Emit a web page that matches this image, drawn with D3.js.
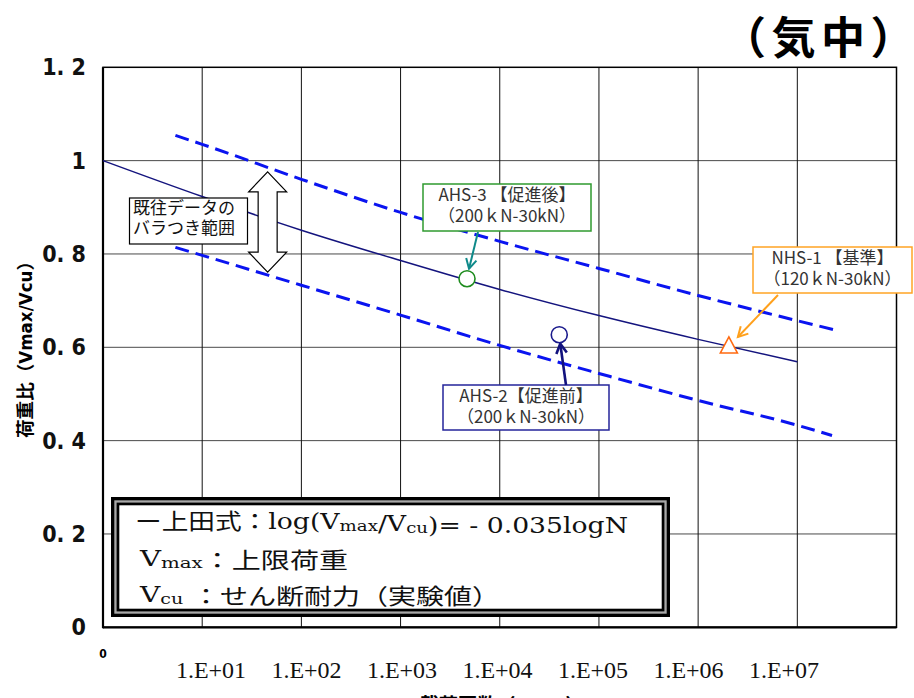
<!DOCTYPE html>
<html>
<head>
<meta charset="utf-8">
<script src="https://cdn.jsdelivr.net/npm/d3@7/dist/d3.min.js"></script>
<style>
	body { margin: 0; background: #fff; }
	svg { display: block; }
</style>
</head>
<body>
<div id="root"></div>
<script>
// axis ticks
const xTickValues = [1, 2, 3, 4, 5, 6, 7]
const xTickLabels = ['1.E+01', '1.E+02', '1.E+03', '1.E+04', '1.E+05', '1.E+06', '1.E+07']
const yTickValues = [0, 0.2, 0.4, 0.6, 0.8, 1, 1.2]
const yTickLabels = ['0', '0. 2', '0. 4', '0. 6', '0. 8', '1', '1. 2']

// 上田式 (mean line)
const meanLogN = [0, 1, 2, 3, 4, 5, 6, 7]
const meanRatio = [1.000, 0.923, 0.851, 0.786, 0.724, 0.668, 0.617, 0.569]

// scatter band of past data (dashed)
const upperLogN = [0.73, 1, 2, 3, 4, 5, 6, 7, 7.4]
const upperRatio = [1.054, 1.035, 0.960, 0.889, 0.827, 0.769, 0.711, 0.657, 0.636]
const lowerLogN = [0.73, 1, 2, 3, 4, 5, 6, 7, 7.35]
const lowerRatio = [0.814, 0.797, 0.733, 0.669, 0.604, 0.544, 0.486, 0.433, 0.411]

// specimens
const specimenNames = ['AHS-3', 'AHS-2', 'NHS-1']
const specimenLogN = [3.67, 4.60, 6.31]
const specimenRatio = [0.747, 0.627, 0.605]
const specimenLabels = [
	['AHS-3 【促進後】', '（200ｋN-30kN）'],
	['AHS-2【促進前】', '（200ｋN-30kN）'],
	['NHS-1 【基準】', '（120ｋN-30kN）'],
]

const titleChars = ['（', '気', '中', '）']

const C = {
	width: 914,
	height: 698,
	left: 103,
	right: 896.5,
	top: 67.3,
	bottom: 627.3,
	jp: '"Noto Sans CJK JP", sans-serif',
	narrow: '"Liberation Sans Narrow", "DejaVu Sans Condensed", "Noto Sans CJK JP", sans-serif',
	serif: '"DejaVu Serif", "Liberation Serif", "Noto Sans CJK JP", serif',
	specimens: {
		'AHS-3': { shape: 'circle', color: '#1e8c1e', box: [423, 184, 168, 47], boxColor: '#2f9a2f',
			arrowColor: '#0f8a8a', arrowFrom: [478, 232], tip: [2, -10], arrowWidth: 2 },
		'AHS-2': { shape: 'circle', color: '#1a1a8c', box: [443, 385, 166, 45], boxColor: '#24249a',
			arrowColor: '#12127e', arrowFrom: [566, 385], tip: [1, 9], arrowWidth: 2.6 },
		'NHS-1': { shape: 'triangle', color: '#ff6a10', box: [753, 247, 159, 46], boxColor: '#ffa424',
			arrowColor: '#ffa01c', arrowFrom: [778, 295], tip: [9, -8], arrowWidth: 2 },
	},
}

const x = d3.scaleLinear().domain([0, 8]).range([C.left, C.right])
const y = d3.scaleLinear().domain([0, 1.2]).range([C.bottom, C.top])
// the 1.E+xx labels sit in their own evenly spaced row
const xLabel = d3.scaleLinear().domain([1, 7]).range([211, 784])

const svg = d3.select('#root').append('svg')
	.attr('width', C.width)
	.attr('height', C.height)
	.attr('viewBox', `0 0 ${C.width} ${C.height}`)

svg.append('rect').attr('width', C.width).attr('height', C.height).attr('fill', '#fff')

// grid
svg.append('g').selectAll('line')
	.data(yTickValues.filter(d => d > 0 && d < 1.2))
	.enter().append('line')
	.attr('x1', C.left).attr('x2', C.right)
	.attr('y1', d => y(d)).attr('y2', d => y(d))
	.attr('stroke', '#4a4a4a').attr('stroke-width', 1)

svg.append('g').selectAll('line')
	.data(xTickValues)
	.enter().append('line')
	.attr('x1', d => x(d)).attr('x2', d => x(d))
	.attr('y1', C.top).attr('y2', C.bottom)
	.attr('stroke', '#111').attr('stroke-width', 1)

// frame
svg.append('rect')
	.attr('x', C.left).attr('y', C.top)
	.attr('width', C.right - C.left).attr('height', C.bottom - C.top)
	.attr('fill', 'none').attr('stroke', '#000').attr('stroke-width', 1.5)
svg.append('line').attr('x1', C.left).attr('x2', C.left).attr('y1', C.top).attr('y2', C.bottom + 1)
	.attr('stroke', '#000').attr('stroke-width', 2.2)
svg.append('line').attr('x1', C.left).attr('x2', C.right).attr('y1', C.bottom).attr('y2', C.bottom)
	.attr('stroke', '#000').attr('stroke-width', 2.2)

// y axis labels
const axisY = d3.axisLeft(y)
	.tickValues(yTickValues)
	.tickFormat((d, i) => yTickLabels[i])
	.tickSize(0)
	.tickPadding(17)

svg.append('g')
	.attr('transform', `translate(${C.left},0)`)
	.call(axisY)
	.call(g => g.select('.domain').remove())
	.selectAll('text')
	.attr('font-family', C.narrow)
	.attr('font-weight', 'bold')
	.attr('font-size', 23)
	.attr('fill', '#111')

// x axis labels
svg.append('text')
	.attr('x', x(0)).attr('y', 658)
	.attr('text-anchor', 'middle')
	.attr('font-family', C.narrow).attr('font-weight', 'bold').attr('font-size', 12)
	.text('0')

svg.append('g').selectAll('text')
	.data(xTickValues)
	.enter().append('text')
	.attr('x', d => xLabel(d))
	.attr('y', 678)
	.attr('text-anchor', 'middle')
	.attr('font-family', '"Liberation Serif", serif')
	.attr('font-size', 24)
	.attr('fill', '#111')
	.text((d, i) => xTickLabels[i])

// axis titles
svg.append('text')
	.attr('transform', 'translate(25,345) rotate(-90)')
	.attr('text-anchor', 'middle')
	.attr('dominant-baseline', 'central')
	.attr('font-family', C.narrow)
	.attr('font-weight', 'bold')
	.attr('font-size', 18)
	.attr('textLength', 186)
	.attr('lengthAdjust', 'spacingAndGlyphs')
	.text('荷重比（Vmax/Vcu）')

// bottom title is clipped by the page edge, as in the original
svg.append('text')
	.attr('x', 502).attr('y', 713)
	.attr('text-anchor', 'middle')
	.attr('font-family', C.narrow)
	.attr('font-weight', 'bold')
	.attr('font-size', 20)
	.attr('textLength', 165)
	.attr('lengthAdjust', 'spacingAndGlyphs')
	.text('載荷回数（LogN）')

// （気中）, one glyph per 50px pitch
svg.append('text')
	.attr('y', 54)
	.attr('font-family', C.jp)
	.attr('font-weight', 'bold')
	.attr('font-size', 44)
	.selectAll('tspan')
	.data(titleChars)
	.enter().append('tspan')
	.attr('x', (d, i) => 722 + i * 49.5)
	.text(d => d)

// lines
const line = d3.line()
	.x(d => x(d[0]))
	.y(d => y(d[1]))
	.curve(d3.curveMonotoneX)

svg.append('path')
	.datum(d3.zip(upperLogN, upperRatio))
	.attr('d', line)
	.attr('fill', 'none').attr('stroke', '#0a14f0').attr('stroke-width', 3)
	.attr('stroke-dasharray', '14,7')

svg.append('path')
	.datum(d3.zip(lowerLogN, lowerRatio))
	.attr('d', line)
	.attr('fill', 'none').attr('stroke', '#0a14f0').attr('stroke-width', 3)
	.attr('stroke-dasharray', '14,7')

svg.append('path')
	.datum(d3.zip(meanLogN, meanRatio))
	.attr('d', line)
	.attr('fill', 'none').attr('stroke', '#14147e').attr('stroke-width', 1.5)

// band annotation: double arrow + label
const bandX = x(1.66), bandTop = y(0.976), bandBottom = y(0.761)
const aw = 9.5, hw = 19, hl = 20
svg.append('path')
	.attr('d', `M${bandX},${bandTop} L${bandX + hw},${bandTop + hl} L${bandX + aw},${bandTop + hl}
		L${bandX + aw},${bandBottom - hl} L${bandX + hw},${bandBottom - hl} L${bandX},${bandBottom}
		L${bandX - hw},${bandBottom - hl} L${bandX - aw},${bandBottom - hl} L${bandX - aw},${bandTop + hl}
		L${bandX - hw},${bandTop + hl} Z`)
	.attr('fill', '#fff').attr('stroke', '#000').attr('stroke-width', 1.2)

svg.append('rect')
	.attr('x', 129.5).attr('y', 198).attr('width', 118).attr('height', 46)
	.attr('fill', '#fff').attr('stroke', '#000').attr('stroke-width', 1.2)

svg.append('text')
	.attr('font-family', C.jp).attr('font-size', 17).attr('fill', '#111')
	.selectAll('tspan')
	.data(['既往データの', 'バラつき範囲'])
	.enter().append('tspan')
	.attr('x', 133)
	.attr('y', (d, i) => 214 + i * 20)
	.text(d => d)

// specimens: callouts then markers
function drawArrow (x1, y1, x2, y2, color, width) {
	const a = Math.atan2(y2 - y1, x2 - x1),
		len = 11,
		spread = 0.5
	svg.append('line')
		.attr('x1', x1).attr('y1', y1).attr('x2', x2).attr('y2', y2)
		.attr('stroke', color).attr('stroke-width', width)
	svg.append('path')
		.attr('d', `M${x2 - len * Math.cos(a - spread)},${y2 - len * Math.sin(a - spread)}
			L${x2},${y2} L${x2 - len * Math.cos(a + spread)},${y2 - len * Math.sin(a + spread)}`)
		.attr('fill', 'none').attr('stroke', color).attr('stroke-width', width)
		.attr('stroke-linejoin', 'miter')
}

specimenNames.forEach((name, i) => {
	const s = C.specimens[name],
		px = x(specimenLogN[i]),
		py = y(specimenRatio[i])

	svg.append('rect')
		.attr('x', s.box[0]).attr('y', s.box[1])
		.attr('width', s.box[2]).attr('height', s.box[3])
		.attr('fill', '#fff').attr('stroke', s.boxColor).attr('stroke-width', 1.5)

	svg.append('text')
		.attr('font-family', C.jp).attr('font-size', 17).attr('fill', '#333')
		.attr('text-anchor', 'middle')
		.selectAll('tspan')
		.data(specimenLabels[i])
		.enter().append('tspan')
		.attr('x', s.box[0] + s.box[2] / 2)
		.attr('y', (d, j) => s.box[1] + 17 + j * 21)
		.text(d => d)

	drawArrow(s.arrowFrom[0], s.arrowFrom[1], px + s.tip[0], py + s.tip[1], s.arrowColor, s.arrowWidth)

	if (s.shape === 'circle') {
		svg.append('circle')
			.attr('cx', px).attr('cy', py).attr('r', 8)
			.attr('fill', '#fff').attr('stroke', s.color).attr('stroke-width', 1.6)
	} else {
		svg.append('path')
			.attr('d', `M${px},${py - 8} L${px + 8.5},${py + 8} L${px - 8.5},${py + 8} Z`)
			.attr('fill', '#fff').attr('stroke', s.color).attr('stroke-width', 1.6)
	}
})

// formula box with triple border
const fb = { x: 111, y: 497, w: 559, h: 120 }
;[[0, '#000'], [3.3, '#a8a8a8'], [5.6, '#000'], [8.3, '#fff']].forEach(([inset, fill]) => {
	svg.append('rect')
		.attr('x', fb.x + inset).attr('y', fb.y + inset)
		.attr('width', fb.w - 2 * inset).attr('height', fb.h - 2 * inset)
		.attr('fill', fill)
})

const formulaLines = [
	{ x: 135, y: 529, len: 493, parts: [['ー上田式：log(V'], ['max', 1], ['/V'], ['cu', 1], [')= - 0.035logN']] },
	{ x: 140, y: 566, len: 208, parts: [['V'], ['max', 1], ['：上限荷重']] },
	{ x: 140, y: 602, len: 360, parts: [['V'], ['cu', 1], [' ：せん断耐力（実験値）']] },
]

formulaLines.forEach(l => {
	const t = svg.append('text')
		.attr('x', l.x).attr('y', l.y)
		.attr('font-family', C.serif)
		.attr('font-size', 22)
		.attr('fill', '#111')
		.attr('textLength', l.len)
		.attr('lengthAdjust', 'spacingAndGlyphs')
	l.parts.forEach(([str, sub]) => {
		t.append('tspan')
			.attr('font-size', sub ? 15 : 22)
			.attr('dy', sub ? 2 : 0)
			.text(str)
		if (sub) t.append('tspan').attr('dy', -2).text('')
	})
})
</script>
</body>
</html>
